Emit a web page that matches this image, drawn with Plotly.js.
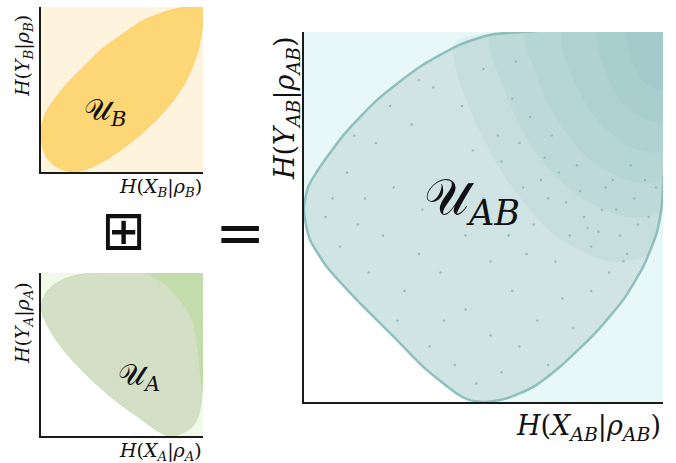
<!DOCTYPE html>
<html>
<head>
<meta charset="utf-8">
<script src="https://cdn.plot.ly/plotly-3.0.1.min.js"></script>
<style>html,body{margin:0;padding:0;background:#fff;}#chart{width:676px;height:463px;}</style>
</head>
<body>
<div id="chart"></div>
<script>
// ---- Data (normalised entropy coordinates, 0..1) ----
// Outline of U_B (starts at the leftmost point, runs down the lower-left edge first)
const outlineBX = [0.0, 0.0, 0.010, 0.033, 0.068, 0.119, 0.191, 0.242, 0.314, 0.395, 0.488, 0.621, 0.730, 0.816, 0.887, 0.934, 0.969, 0.990, 1.0, 1.0, 0.898, 0.795, 0.631, 0.508, 0.365, 0.262, 0.160, 0.078, 0.027, 0.0];
const outlineBY = [0.263, 0.232, 0.152, 0.091, 0.051, 0.020, 0.0, 0.006, 0.030, 0.071, 0.131, 0.232, 0.333, 0.434, 0.535, 0.636, 0.737, 0.838, 0.939, 1.0, 1.0, 0.980, 0.919, 0.838, 0.737, 0.636, 0.535, 0.434, 0.354, 0.263];

// Outline of U_A
const outlineAX = [0.0, 0.014, 0.045, 0.087, 0.148, 0.221, 0.303, 0.406, 0.509, 0.612, 0.695, 0.757, 0.788, 0.839, 0.901, 0.942, 0.973, 0.990, 0.996, 0.998, 1.0, 1.0, 0.324, 0.221, 0.138, 0.076, 0.035, 0.010, 0.0];
const outlineAY = [0.782, 0.731, 0.669, 0.598, 0.516, 0.435, 0.353, 0.261, 0.180, 0.108, 0.047, 0.010, 0.0, 0.006, 0.031, 0.067, 0.129, 0.220, 0.322, 0.527, 0.731, 1.0, 1.0, 0.986, 0.961, 0.924, 0.884, 0.833, 0.782];
// Denser band of samples in U_A (upper right)
const denseAX = [0.654, 1.0, 1.0, 0.99, 0.97, 0.938, 0.901, 0.839, 0.757, 0.654];
const denseAY = [1.0, 1.0, 0.25, 0.30, 0.50, 0.690, 0.771, 0.853, 0.935, 1.0];

// Outline of U_AB
const outlineABX = [0.0, 0.003, 0.017, 0.063, 0.147, 0.240, 0.332, 0.425, 0.462, 0.509, 0.565, 0.639, 0.713, 0.811, 0.889, 0.945, 0.982, 0.996, 1.0, 1.0, 0.611, 0.518, 0.435, 0.323, 0.203, 0.114, 0.045, 0.012, 0.0];
const outlineABY = [0.528, 0.492, 0.438, 0.366, 0.276, 0.186, 0.095, 0.023, 0.005, 0.0, 0.010, 0.041, 0.095, 0.186, 0.276, 0.366, 0.456, 0.528, 0.582, 1.0, 1.0, 0.992, 0.966, 0.906, 0.816, 0.726, 0.636, 0.582, 0.528];
// Sample-density zones of U_AB (increasingly dense towards the upper right corner)
const zone1X = [0.42, 0.611, 1.0, 1.0, 0.99, 0.96, 0.85, 0.70, 0.58, 0.48, 0.42];
const zone1Y = [0.97, 1.0, 1.0, 0.58, 0.47, 0.40, 0.38, 0.45, 0.58, 0.75, 0.97];
const zone2X = [0.52, 1.0, 1.0, 0.90, 0.76, 0.64, 0.56, 0.52];
const zone2Y = [0.995, 1.0, 0.52, 0.50, 0.56, 0.68, 0.84, 0.995];
const zone3X = [0.62, 1.0, 1.0, 0.90, 0.79, 0.70, 0.64, 0.62];
const zone3Y = [1.0, 1.0, 0.60, 0.60, 0.66, 0.77, 0.90, 1.0];
const zone4X = [0.72, 1.0, 1.0, 0.91, 0.82, 0.75, 0.72];
const zone4Y = [1.0, 1.0, 0.68, 0.69, 0.76, 0.87, 1.0];
const zone5X = [0.82, 1.0, 1.0, 0.92, 0.86, 0.82];
const zone5Y = [1.0, 1.0, 0.76, 0.78, 0.85, 1.0];
const zone6X = [0.90, 1.0, 1.0, 0.94, 0.90];
const zone6Y = [1.0, 1.0, 0.84, 0.87, 1.0];
// Scattered samples in U_AB
const sampleABX = [0.08,0.12,0.15,0.10,0.20,0.18,0.25,0.22,0.28,0.30,0.33,0.06,0.14,0.26,0.35,0.38,0.42,0.45,0.48,0.52,0.55,0.58,0.60,0.65,0.68,0.72,0.75,0.62,0.70,0.80,0.85,0.40,0.45,0.50,0.36,0.44,0.55,0.32,0.24,0.17,0.32,0.39,0.57,0.66,0.78,0.88,0.92,0.50,0.58,0.47,
                   0.52,0.56,0.61,0.64,0.68,0.71,0.74,0.77,0.80,0.83,0.86,0.89,0.93,0.95,0.60,0.63,0.67,0.73,0.76,0.79,0.84,0.87,0.91,0.54,0.59,0.69,0.82,0.90,0.96,0.98];
const sampleABY = [0.55,0.62,0.48,0.42,0.70,0.35,0.58,0.45,0.30,0.75,0.52,0.50,0.72,0.22,0.15,0.35,0.10,0.25,0.05,0.18,0.08,0.30,0.15,0.22,0.10,0.28,0.20,0.40,0.38,0.30,0.35,0.60,0.45,0.55,0.85,0.80,0.65,0.87,0.80,0.55,0.40,0.22,0.45,0.60,0.50,0.45,0.55,0.90,0.82,0.68,
                   0.38,0.52,0.58,0.48,0.55,0.62,0.45,0.57,0.42,0.52,0.60,0.38,0.48,0.60,0.70,0.77,0.66,0.54,0.64,0.47,0.58,0.52,0.64,0.72,0.92,0.72,0.46,0.40,0.50,0.58];

// ---- helpers ----
function lowerLeftArc(xs, ys) {
  let iMin = 0;
  for (let i = 0; i < ys.length; i++) if (ys[i] < ys[iMin]) iMin = i;
  return {x: xs.slice(0, iMin + 1), y: ys.slice(0, iMin + 1)};
}
function whiteCorner(xs, ys, xa, ya) {
  const arc = lowerLeftArc(xs, ys);
  return {type: 'scatter', mode: 'lines', xaxis: xa, yaxis: ya,
    x: [0].concat(arc.x, [0]), y: [0].concat(arc.y, [0]),
    fill: 'toself', fillcolor: '#ffffff', line: {width: 0}, hoverinfo: 'skip'};
}
function region(xs, ys, xa, ya, fill, lineColor, lineWidth, smooth) {
  return {type: 'scatter', mode: 'lines', xaxis: xa, yaxis: ya, x: xs, y: ys,
    fill: 'toself', fillcolor: fill,
    line: {color: lineColor, width: lineWidth, shape: 'spline', smoothing: smooth},
    hoverinfo: 'skip'};
}
const none = 'rgba(0,0,0,0)';
const teal = 'rgba(128,184,184,0.13)';

const traces = [
  // U_B
  region(outlineBX, outlineBY, 'x', 'y', 'rgb(253,214,118)', 'rgb(253,208,100)', 1, 0.5),
  // U_A
  whiteCorner(outlineAX, outlineAY, 'x2', 'y2'),
  region(outlineAX, outlineAY, 'x2', 'y2', 'rgb(212,224,198)', 'rgb(200,222,182)', 1, 0.5),
  region(denseAX, denseAY, 'x2', 'y2', 'rgba(165,212,130,0.38)', none, 0, 0.5),
  // U_AB
  whiteCorner(outlineABX, outlineABY, 'x3', 'y3'),
  region(outlineABX, outlineABY, 'x3', 'y3', 'rgb(209,228,228)', 'rgb(143,191,191)', 2.5, 0.6),
  region(zone1X, zone1Y, 'x3', 'y3', teal, none, 0, 0.8),
  region(zone2X, zone2Y, 'x3', 'y3', teal, none, 0, 0.8),
  region(zone3X, zone3Y, 'x3', 'y3', teal, none, 0, 0.8),
  region(zone4X, zone4Y, 'x3', 'y3', teal, none, 0, 0.8),
  region(zone5X, zone5Y, 'x3', 'y3', teal, none, 0, 0.8),
  region(zone6X, zone6Y, 'x3', 'y3', teal, none, 0, 0.8),
  {type: 'scatter', mode: 'markers', xaxis: 'x3', yaxis: 'y3', x: sampleABX, y: sampleABY,
    marker: {size: 2.4, color: 'rgb(140,190,190)'}, hoverinfo: 'skip'}
];

function ax(domain, anchor) {
  return {domain: domain, anchor: anchor, range: [0, 1], showline: true, linecolor: '#1a1a1a', linewidth: 1.6,
    showgrid: false, zeroline: false, showticklabels: false, ticks: '', fixedrange: true};
}

const serif = 'DejaVu Serif, Liberation Serif, serif';
function label(text, x, y, size, opts) {
  return Object.assign({text: text, xref: 'paper', yref: 'paper', x: x / 676, y: 1 - y / 463,
    xanchor: 'center', yanchor: 'middle',
    showarrow: false, font: {family: serif, size: size, color: '#111'}}, opts || {});
}
function bg(xref, yref, color) {
  return {type: 'rect', xref: xref + ' domain', yref: yref + ' domain', x0: 0, x1: 1, y0: 0, y1: 1,
    fillcolor: color, line: {width: 0}, layer: 'below'};
}

const layout = {
  width: 676, height: 463, margin: {l: 0, r: 0, t: 0, b: 0},
  paper_bgcolor: '#ffffff', plot_bgcolor: 'rgba(0,0,0,0)', showlegend: false,
  xaxis: ax([0.0607, 0.3003], 'y'), yaxis: ax([0.6285, 0.9849], 'x'),
  xaxis2: ax([0.0607, 0.3003], 'y2'), yaxis2: ax([0.0583, 0.4104], 'x2'),
  xaxis3: ax([0.4497, 0.9808], 'y3'), yaxis3: ax([0.1318, 0.9309], 'x3'),
  shapes: [bg('x', 'y', 'rgb(254,244,222)'), bg('x2', 'y2', 'rgb(240,250,232)'), bg('x3', 'y3', 'rgb(232,248,248)')],
  annotations: [
    label('<i>H</i>(<i>X</i><sub><i>B</i></sub>|<i>ρ</i><sub><i>B</i></sub>)', 204, 187, 19, {xanchor: 'right'}),
    label('<i>H</i>(<i>Y</i><sub><i>B</i></sub>|<i>ρ</i><sub><i>B</i></sub>)', 23, 56, 19, {textangle: -90}),
    label('<i>H</i>(<i>X</i><sub><i>A</i></sub>|<i>ρ</i><sub><i>A</i></sub>)', 204, 451, 19, {xanchor: 'right'}),
    label('<i>H</i>(<i>Y</i><sub><i>A</i></sub>|<i>ρ</i><sub><i>A</i></sub>)', 23, 323, 19, {textangle: -90}),
    label('<i>H</i>(<i>X</i><sub><i>AB</i></sub>|<i>ρ</i><sub><i>AB</i></sub>)', 663, 427, 27, {xanchor: 'right'}),
    label('<i>H</i>(<i>Y</i><sub><i>AB</i></sub>|<i>ρ</i><sub><i>AB</i></sub>)', 286, 108, 27, {textangle: -90}),
    label('𝒰<sub><i>B</i></sub>', 105, 112, 30),
    label('𝒰<sub><i>A</i></sub>', 139, 376, 30),
    label('𝒰<sub><i>AB</i></sub>', 472, 200, 50),
    label('⊞', 123, 230, 54, {font: {family: 'DejaVu Sans', size: 54, color: '#111'}}),
    label('=', 240, 232, 60, {font: {family: 'DejaVu Sans', size: 60, color: '#111'}})
  ]
};

Plotly.newPlot('chart', traces, layout, {staticPlot: true, displayModeBar: false});
</script>
</body>
</html>
